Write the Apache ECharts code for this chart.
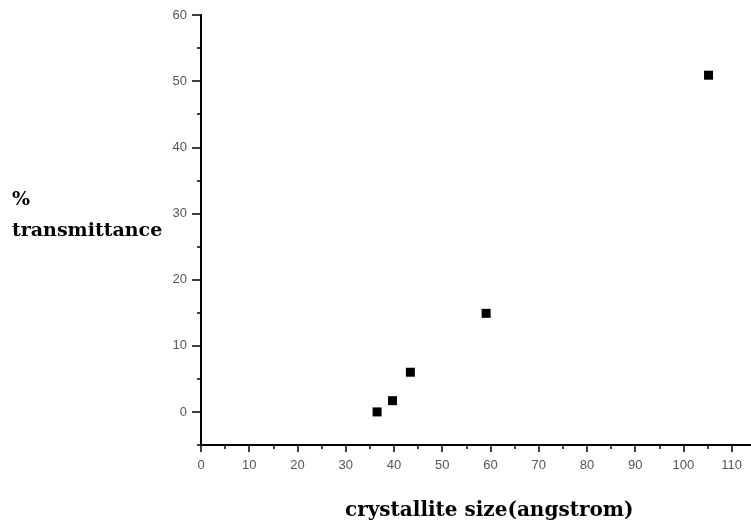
<!DOCTYPE html>
<html style="height:100%">
<head>
    <meta charset="utf-8">
    <title>Transmittance vs crystallite size</title>
    <script src="https://cdn.jsdelivr.net/npm/echarts@6/dist/echarts.min.js"></script>
</head>
<body style="height:100%;width:100%;margin:0;background:#fff;">
    <div id="main" style="width:751px;height:529px;margin:0"></div>
    <script type="text/javascript">
        // values
        var crystalliteSize = [36.5, 39.7, 43.4, 59.1, 105.2];
        var transmittance = [0, 1.7, 6.0, 14.9, 50.9];

        // tick labels / tick positions
        var xMajor = [0, 10, 20, 30, 40, 50, 60, 70, 80, 90, 100, 110];
        var xMinor = [5, 15, 25, 35, 45, 55, 65, 75, 85, 95, 105];
        var yMajor = [0, 10, 20, 30, 40, 50, 60];
        var yMinor = [-5, 5, 15, 25, 35, 45, 55];

        var labelFont = {color: '#555', fontFamily: 'Liberation Sans', fontSize: 13};
        var nameFont = {fill: '#000', fontFamily: 'DejaVu Serif', fontWeight: 'bold', fontSize: 19};

        var myChart = echarts.init(document.getElementById('main'));
        myChart.setOption({
            animation: false,
            grid: {left: 201, top: 15, right: 0, bottom: 84},
            xAxis: [
                {
                    type: 'value', min: 0, max: 114,
                    splitLine: {show: false},
                    axisLine: {onZero: false, lineStyle: {color: '#000', width: 2}},
                    axisTick: {customValues: xMajor, length: 7, lineStyle: {color: '#000', width: 1.5}},
                    axisLabel: Object.assign({customValues: xMajor, margin: 14}, labelFont)
                },
                {
                    type: 'value', min: 0, max: 114, position: 'bottom', gridIndex: 0,
                    splitLine: {show: false},
                    axisLine: {show: false, onZero: false},
                    axisTick: {customValues: xMinor, length: 4, lineStyle: {color: '#000', width: 1.5}},
                    axisLabel: {show: false}
                }
            ],
            yAxis: [
                {
                    type: 'value', min: -5, max: 60,
                    splitLine: {show: false},
                    axisLine: {onZero: false, lineStyle: {color: '#000', width: 2}},
                    axisTick: {customValues: yMajor, length: 9, lineStyle: {color: '#000', width: 1.5}},
                    axisLabel: Object.assign({customValues: yMajor, margin: 14}, labelFont)
                },
                {
                    type: 'value', min: -5, max: 60, position: 'left', gridIndex: 0,
                    splitLine: {show: false},
                    axisLine: {show: false, onZero: false},
                    axisTick: {customValues: yMinor, length: 4, lineStyle: {color: '#000', width: 1.5}},
                    axisLabel: {show: false}
                }
            ],
            graphic: [
                {type: 'text', left: 12, top: 191, style: Object.assign({text: '%'}, nameFont)},
                {type: 'text', left: 12, top: 222, style: Object.assign({text: 'transmittance'}, nameFont)},
                {type: 'text', left: 345, top: 501, style: Object.assign({text: 'crystallite size(angstrom)'}, nameFont, {fontSize: 20})}
            ],
            series: [
                {
                    type: 'scatter',
                    symbol: 'rect',
                    symbolSize: 9,
                    itemStyle: {color: '#000', opacity: 1},
                    data: crystalliteSize.map(function(x, i){
                        return [x, transmittance[i]];
                    })
                }
            ]
        });
    </script>
</body>
</html>
